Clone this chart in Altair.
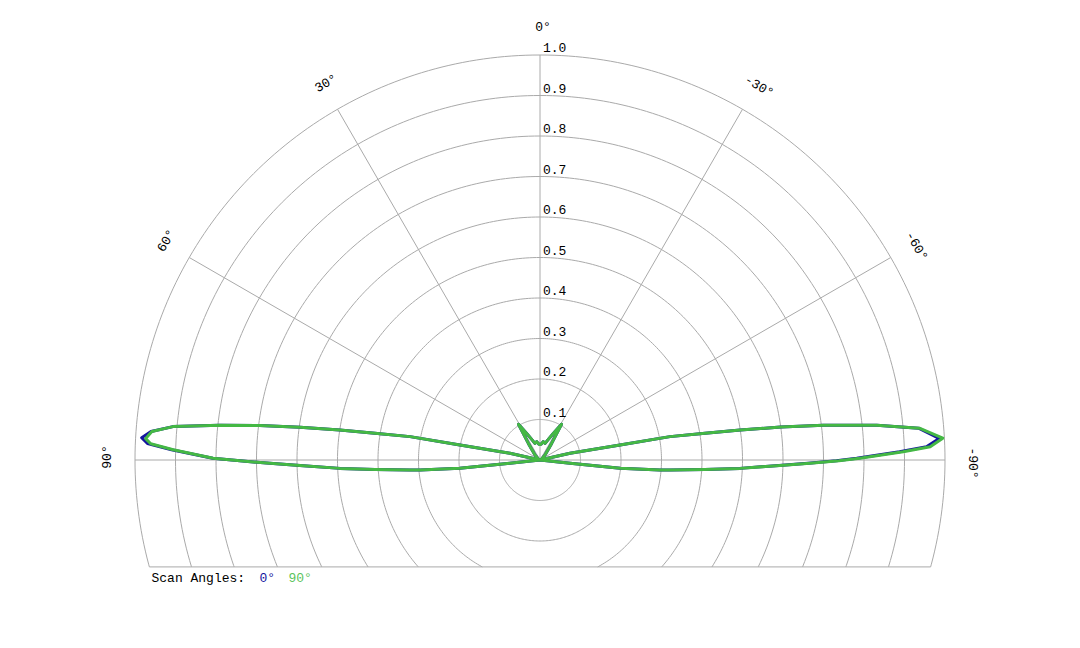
import altair as alt
import pandas as pd
import numpy as np

# ---------------- data ----------------
series_names = ["0°", "90°"]
series_colors = ["#14149e", "#44b844"]

# 90° scan (green)
theta_green = [97.0, 96.3, 95.9, 94.8, 94.4, 93.3, 92.4, 91.3, 90.7, 90.15, 89.7, 88.4, 87.6,
               86.9, 85.8, 84.8, 83.8, 83.0, 82.2, 81.5, 80.8, 79.8, 79.4, 77.4, 76.0,
               60.0, 45.0, 35.0, 31.0, 26.0, 22.0, 17.0, 10.0, 5.0, 0.0,
               -5.0, -10.0, -17.0, -22.0, -26.0, -31.0, -35.0, -45.0, -60.0,
               -76.0, -77.4, -79.4, -79.8, -80.8, -81.5, -82.2, -83.0, -84.1, -85.2, -86.9,
               -88.05, -88.7, -89.7, -90.15, -90.7, -91.3, -92.4, -93.3, -94.4, -94.8, -95.9,
               -96.3, -97.0]
r_green = [0.0, 0.075, 0.199, 0.297, 0.322, 0.408, 0.494, 0.593, 0.667, 0.741, 0.807, 0.906, 0.962,
           0.975, 0.961, 0.910, 0.795, 0.697, 0.598, 0.500, 0.413, 0.326, 0.201, 0.076, 0.0,
           0.005, 0.017, 0.050, 0.103, 0.070, 0.055, 0.043, 0.046, 0.040, 0.038,
           0.040, 0.046, 0.043, 0.055, 0.070, 0.103, 0.050, 0.017, 0.005,
           0.0, 0.076, 0.201, 0.326, 0.413, 0.500, 0.600, 0.705, 0.836, 0.940, 0.996,
           0.964, 0.897, 0.790, 0.738, 0.667, 0.593, 0.494, 0.408, 0.322, 0.297, 0.199,
           0.075, 0.0]

# 0° scan (blue)
theta_blue = [97.0, 96.3, 95.9, 94.8, 94.4, 93.3, 92.4, 91.3, 90.7, 90.15, 89.7, 88.4, 87.6,
              86.8, 85.8, 84.8, 83.8, 83.0, 82.2, 81.5, 80.8, 79.8, 79.4, 77.4, 76.0,
              60.0, 45.0, 35.0, 31.0, 26.0, 22.0, 17.0, 10.0, 5.0, 0.0,
              -5.0, -10.0, -17.0, -22.0, -26.0, -31.0, -35.0, -45.0, -60.0,
              -76.0, -77.4, -79.4, -79.8, -80.8, -81.5, -82.2, -83.0, -84.1, -85.2, -86.9,
              -88.05, -88.7, -89.7, -90.15, -90.7, -91.3, -92.4, -93.3, -94.4, -94.8, -95.9,
              -96.3, -97.0]
r_blue = [0.0, 0.075, 0.199, 0.297, 0.322, 0.408, 0.494, 0.593, 0.667, 0.741, 0.808, 0.910, 0.970,
          0.985, 0.963, 0.910, 0.795, 0.697, 0.598, 0.500, 0.413, 0.326, 0.201, 0.076, 0.0,
          0.005, 0.017, 0.050, 0.103, 0.070, 0.055, 0.043, 0.046, 0.040, 0.038,
          0.040, 0.046, 0.043, 0.055, 0.070, 0.103, 0.050, 0.017, 0.005,
          0.0, 0.076, 0.201, 0.326, 0.413, 0.500, 0.600, 0.705, 0.836, 0.938, 0.987,
          0.955, 0.888, 0.782, 0.732, 0.662, 0.590, 0.494, 0.408, 0.322, 0.297, 0.199,
          0.075, 0.0]

ring_radii = [0.1, 0.2, 0.3, 0.4, 0.5, 0.6, 0.7, 0.8, 0.9, 1.0]
spoke_angles = [90, 60, 30, 0, -30, -60, -90]
spoke_labels = ["90°", "60°", "30°", "0°", "-30°", "-60°", "-90°"]
legend_title = "Scan Angles:"

# ---------------- layout ----------------
W, H = 1064, 624
PPU = 405.0            # pixels per radial unit
CX, CY = 532.0, 452.0  # centre of polar grid in view pixels
Y_CLIP = -0.264        # bottom cut of the grid
R_LABEL = 1.07
FONT = "Liberation Mono"
GRID = "#aaaaaa"

xs = alt.Scale(domain=[-CX / PPU, (W - CX) / PPU], nice=False, zero=False)
ys = alt.Scale(domain=[(CY - H) / PPU, CY / PPU], nice=False, zero=False)

DEG = "PI/180"

# ---------------- grid rings ----------------
ring_angles = np.arange(-180, 181, 1)
rings_df = pd.DataFrame([(r, a) for r in ring_radii for a in ring_angles], columns=["r", "a"])
yc = f"({Y_CLIP})"
rings = (
    alt.Chart(rings_df)
    .transform_calculate(x0=f"-datum.r*sin(datum.a*{DEG})", y0=f"datum.r*cos(datum.a*{DEG})")
    .transform_calculate(
        x=f"datum.y0 < {yc} ? (datum.x0 < 0 ? -1 : 1)*sqrt(datum.r*datum.r - {yc}*{yc}) : datum.x0",
        y=f"max(datum.y0, {yc})",
    )
    .mark_line(color=GRID, strokeWidth=1)
    .encode(
        x=alt.X("x:Q", scale=xs, axis=None),
        y=alt.Y("y:Q", scale=ys, axis=None),
        detail="r:N",
        order="a:Q",
    )
)

bottom = (
    alt.Chart(pd.DataFrame({"r": [max(ring_radii)]}))
    .transform_calculate(
        x1=f"-sqrt(datum.r*datum.r - {yc}*{yc})",
        x2=f"sqrt(datum.r*datum.r - {yc}*{yc})",
        y=f"{yc}",
    )
    .mark_rule(color=GRID, strokeWidth=1)
    .encode(x=alt.X("x1:Q", scale=xs, axis=None), x2="x2:Q", y=alt.Y("y:Q", scale=ys, axis=None))
)

# ---------------- spokes ----------------
spokes_df = pd.DataFrame({"a": spoke_angles, "lab": spoke_labels, "r": max(ring_radii)})
spokes = (
    alt.Chart(spokes_df)
    .transform_calculate(
        zx="0", zy="0",
        ex=f"-datum.r*sin(datum.a*{DEG})", ey=f"datum.r*cos(datum.a*{DEG})",
    )
    .mark_rule(color=GRID, strokeWidth=1)
    .encode(
        x=alt.X("zx:Q", scale=xs, axis=None),
        y=alt.Y("zy:Q", scale=ys, axis=None),
        x2="ex:Q",
        y2="ey:Q",
    )
)

angle_labels = (
    alt.Chart(spokes_df)
    .transform_calculate(
        lx=f"-{R_LABEL}*sin(datum.a*{DEG})",
        ly=f"{R_LABEL}*cos(datum.a*{DEG})",
        rot="(360 - datum.a) % 360",
    )
    .mark_text(font=FONT, fontSize=13, align="center", baseline="middle", dx=3, color="#000000")
    .encode(
        x=alt.X("lx:Q", scale=xs, axis=None),
        y=alt.Y("ly:Q", scale=ys, axis=None),
        text="lab:N",
        angle=alt.Angle("rot:Q", scale=None),
    )
)

ring_labels = (
    alt.Chart(pd.DataFrame({"r": ring_radii}))
    .transform_calculate(zx="0")
    .mark_text(font=FONT, fontSize=13, align="left", baseline="alphabetic", dx=3, dy=-3, color="#000000")
    .encode(
        x=alt.X("zx:Q", scale=xs, axis=None),
        y=alt.Y("r:Q", scale=ys, axis=None),
        text=alt.Text("r:Q", format=".1f"),
    )
)

# ---------------- pattern curves ----------------
def curve(thetas, rs, color):
    df = pd.DataFrame({"theta": thetas, "r": rs, "i": range(len(thetas))})
    return (
        alt.Chart(df)
        .transform_calculate(
            x=f"-datum.r*sin(datum.theta*{DEG})", y=f"datum.r*cos(datum.theta*{DEG})"
        )
        .mark_line(color=color, strokeWidth=3, strokeJoin="round")
        .encode(
            x=alt.X("x:Q", scale=xs, axis=None),
            y=alt.Y("y:Q", scale=ys, axis=None),
            order="i:Q",
        )
    )

blue_line = curve(theta_blue, r_blue, series_colors[0])
green_line = curve(theta_green, r_green, series_colors[1])

# ---------------- legend (text) ----------------
def legend_text(txt, xpix, color):
    return (
        alt.Chart(pd.DataFrame({"t": [txt]}))
        .mark_text(font=FONT, fontSize=13, align="left", baseline="middle", color=color)
        .encode(x=alt.value(xpix), y=alt.value(570), text="t:N")
    )

legend = (
    legend_text(legend_title, 143.5, "#000000")
    + legend_text(series_names[0], 251.5, series_colors[0])
    + legend_text(series_names[1], 280.5, "#5cc45c")
)

chart = (
    alt.layer(rings, bottom, spokes, ring_labels, angle_labels, blue_line, green_line, legend)
    .properties(width=W, height=H, padding=0, autosize=alt.AutoSizeParams(type="none"),
                background="white")
    .configure_view(strokeWidth=0)
)

chart.save("out.html", embed_options={"renderer": "svg", "actions": False})
